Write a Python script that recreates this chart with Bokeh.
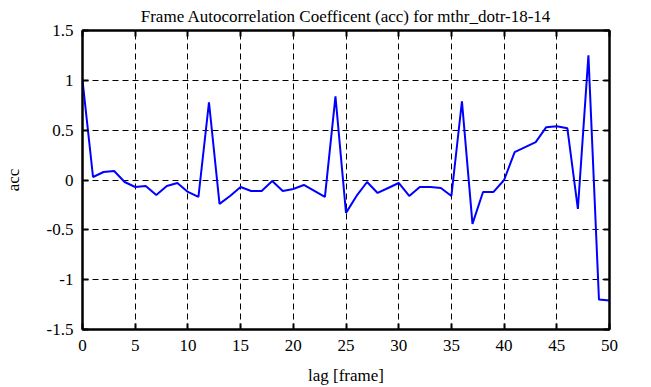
from bokeh.plotting import figure
from bokeh.models import LinearAxis, FixedTicker, Range1d
from bokeh.embed import file_html
from bokeh.resources import INLINE

lag = list(range(0, 51))
acc = [1.0, 0.03, 0.08, 0.09, -0.02, -0.07, -0.06, -0.15, -0.06, -0.03,
       -0.12, -0.17, 0.78, -0.24, -0.16, -0.07, -0.11, -0.11, -0.01, -0.11,
       -0.09, -0.05, -0.11, -0.17, 0.84, -0.33, -0.16, -0.02, -0.13, -0.08,
       -0.03, -0.16, -0.07, -0.07, -0.08, -0.16, 0.79, -0.44, -0.12, -0.12,
       0.0, 0.28, 0.33, 0.38, 0.53, 0.54, 0.52, -0.29, 1.25, -1.20, -1.21]
x_ticks = [0, 5, 10, 15, 20, 25, 30, 35, 40, 45, 50]
y_ticks = [-1.5, -1, -0.5, 0, 0.5, 1, 1.5]
y_labels = ["-1.5", "-1", "-0.5", "0", "0.5", "1", "1.5"]

FONT = "Liberation Serif"

p = figure(width=635, height=379, output_backend="svg", toolbar_location=None,
           x_range=Range1d(0, 50), y_range=Range1d(-1.5, 1.5),
           frame_width=527, frame_height=299,
           min_border_left=78, min_border_right=30, min_border_top=23, min_border_bottom=57,
           title="Frame Autocorrelation Coefficent (acc) for mthr_dotr-18-14")
p.title.text_font = FONT
p.title.text_font_size = "17px"
p.title.text_font_style = "normal"
p.title.text_color = "black"
p.title.align = "center"
p.title.offset = 0
p.title.standoff = 9

p.line(lag, acc, line_color="#0000ff", line_width=2)

p.outline_line_color = "black"
p.outline_line_width = 2
p.background_fill_color = "white"
p.border_fill_color = "white"

for ax in (p.xaxis[0], p.yaxis[0]):
    ax.major_label_text_font = FONT
    ax.major_label_text_font_size = "17px"
    ax.major_label_text_color = "black"
    ax.axis_label_text_font = FONT
    ax.axis_label_text_font_size = "17px"
    ax.axis_label_text_font_style = "normal"
    ax.axis_label_text_color = "black"
    ax.major_tick_in = 6
    ax.major_tick_out = 0
    ax.minor_tick_line_color = None
    ax.axis_line_color = "black"
    ax.axis_line_width = 2
    ax.major_tick_line_width = 2

p.xaxis[0].ticker = FixedTicker(ticks=x_ticks)
p.yaxis[0].ticker = FixedTicker(ticks=y_ticks)
p.yaxis[0].major_label_overrides = {t: l for t, l in zip(y_ticks, y_labels)}
p.xaxis[0].axis_label = "lag [frame]"
p.yaxis[0].axis_label = "acc"
p.xaxis[0].major_label_standoff = 10
p.yaxis[0].major_label_standoff = 9
p.xaxis[0].axis_label_standoff = 12
p.yaxis[0].axis_label_standoff = 21

for loc, tk in (("right", y_ticks), ("above", x_ticks)):
    a = LinearAxis(ticker=FixedTicker(ticks=tk),
                   major_label_overrides={t: "" for t in tk},
                   major_tick_in=6, major_tick_out=0, minor_tick_line_color=None,
                   axis_line_color="black", axis_line_width=2, major_tick_line_width=2,
                   major_label_standoff=0)
    p.add_layout(a, loc)

p.xgrid.ticker = FixedTicker(ticks=x_ticks)
p.ygrid.ticker = FixedTicker(ticks=y_ticks)
for g in (p.xgrid[0], p.ygrid[0]):
    g.grid_line_color = "black"
    g.grid_line_dash = "6 4"
    g.grid_line_width = 1
    g.grid_line_alpha = 1.0

open("out.html", "w").write(file_html(p, INLINE))
